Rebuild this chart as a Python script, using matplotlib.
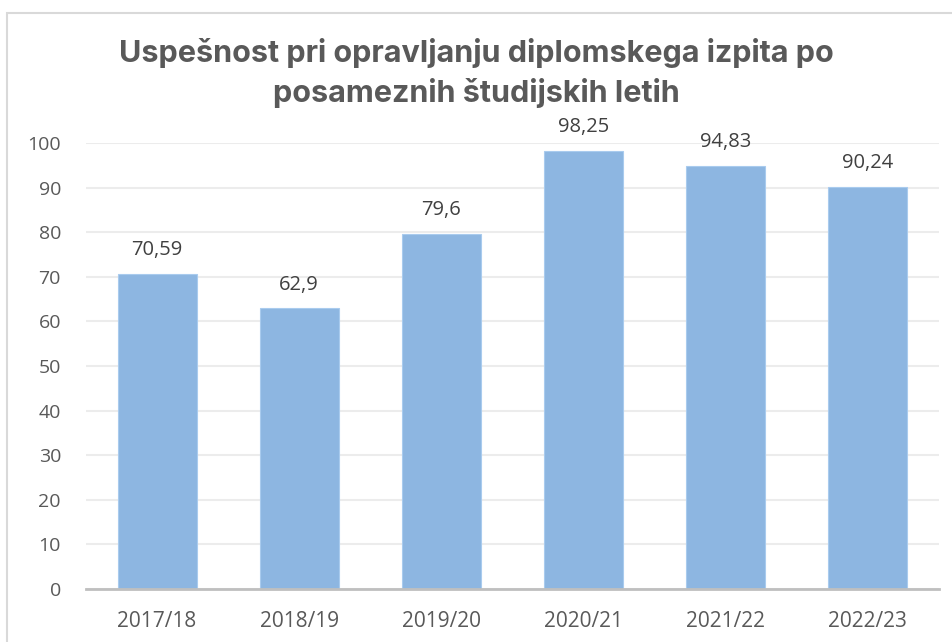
import matplotlib
matplotlib.use('Agg')
import matplotlib.pyplot as plt
from matplotlib.patches import Rectangle

years = ['2017/18', '2018/19', '2019/20', '2020/21', '2021/22', '2022/23']
success = [70.59, 62.9, 79.6, 98.25, 94.83, 90.24]
labels = ['70,59', '62,9', '79,6', '98,25', '94,83', '90,24']
yticks = [0, 10, 20, 30, 40, 50, 60, 70, 80, 90, 100]

plt.rcParams['font.family'] = ['Open Sans', 'DejaVu Sans']

fig = plt.figure(figsize=(9.53, 6.42), dpi=100)

# light chart frame (top and left edges visible)
fig.add_artist(Rectangle((7.5 / 953, -0.1), 1.2, 1.1 - 12.5 / 642,
                         transform=fig.transFigure, fill=False,
                         edgecolor='#d9d9d9', linewidth=1.5))

ax = fig.add_axes([86 / 953, 1 - 589 / 642, 853 / 953, 446 / 642])

x = range(len(years))
bars = ax.bar(x, success, width=0.556, color='#8db6e1', edgecolor='#a9cbee',
              linewidth=0.8, zorder=3)

# value labels above the bars
for i, (v, t) in enumerate(zip(success, labels)):
    ax.annotate(t, (i, v), xytext=(0, 10), textcoords='offset points',
                ha='center', va='bottom', fontsize=14.5, color='#404040')

ax.set_xlim(-0.5, len(years) - 0.5)
ax.set_ylim(0, 100)
ax.set_yticks(yticks)
ax.set_xticks(list(x))
ax.set_xticklabels(years)
ax.tick_params(axis='both', length=0, labelcolor='#595959')
ax.tick_params(axis='y', pad=18, labelsize=14)
ax.tick_params(axis='x', pad=16, labelsize=15)
ax.grid(axis='y', color='#ececec', linewidth=1.5, zorder=0)
for s in ['top', 'right', 'left']:
    ax.spines[s].set_visible(False)
ax.spines['bottom'].set_color('#bfbfbf')
ax.spines['bottom'].set_linewidth(2)
ax.spines['bottom'].set_zorder(4)

fig.text(0.5, 1 - 73 / 642,
         'Uspešnost pri opravljanju diplomskega izpita po\nposameznih študijskih letih',
         ha='center', va='center', fontsize=22, fontweight='bold',
         color='#595959', linespacing=1.4, family=['Inter', 'DejaVu Sans'])

fig.savefig('out.png', dpi=100)
